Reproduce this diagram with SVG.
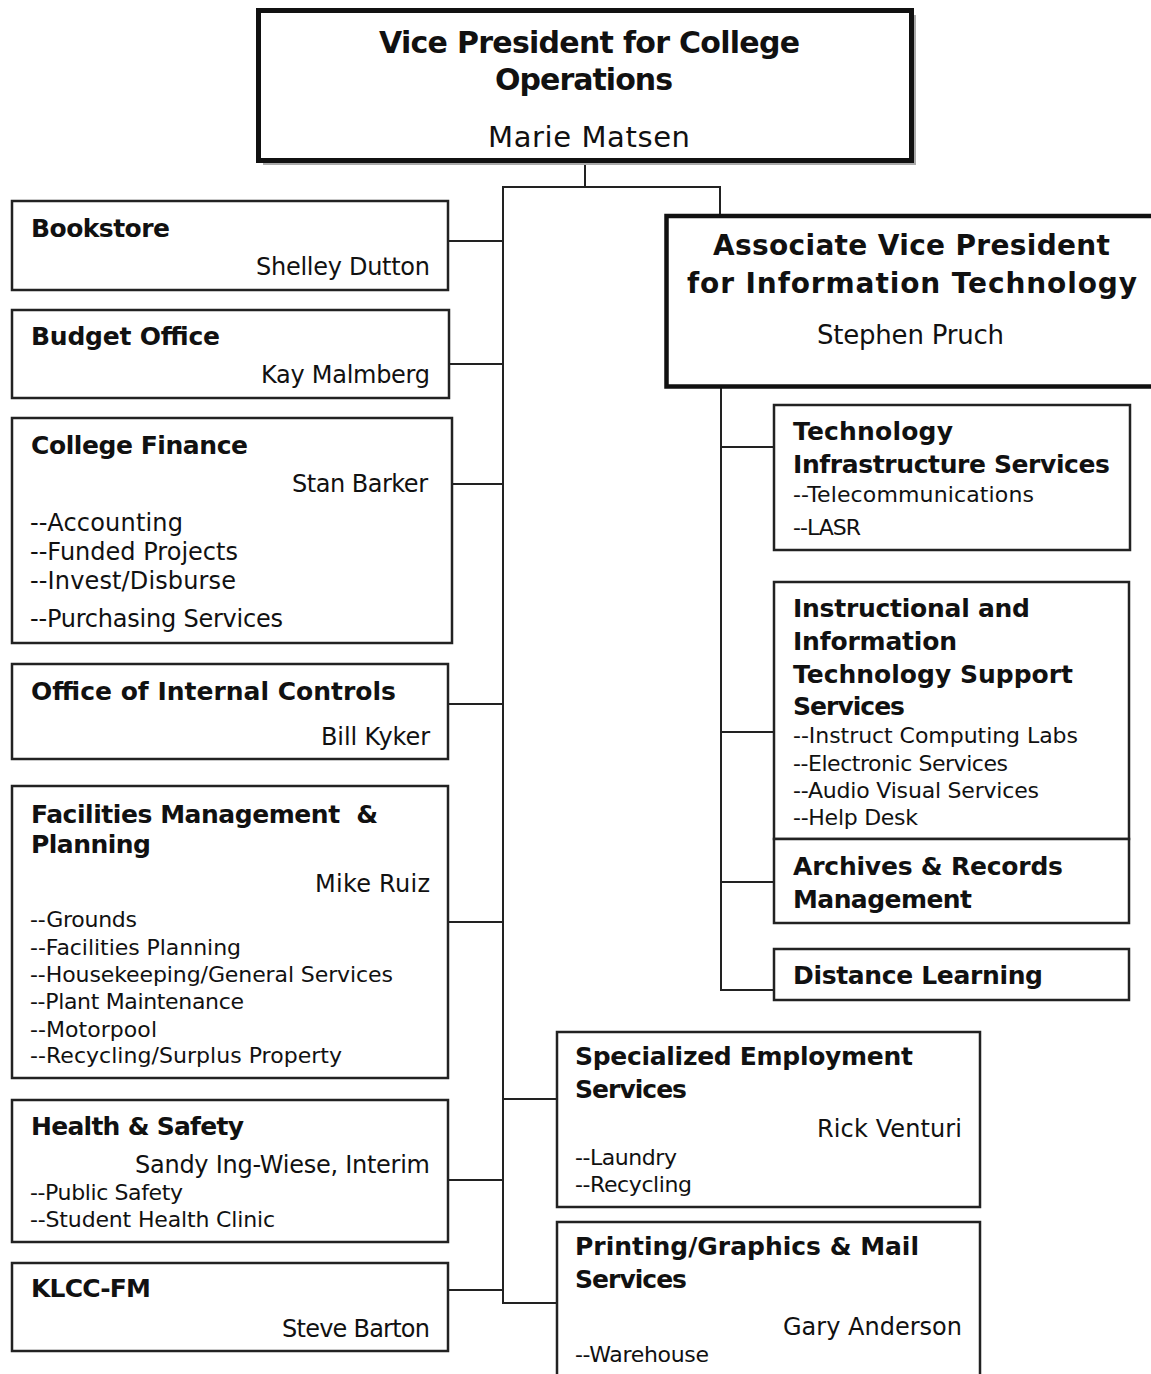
<svg xmlns="http://www.w3.org/2000/svg" width="1151" height="1374" viewBox="0 0 1151 1374">
<style>
.box{fill:#fff;stroke:#222;stroke-width:2.5}
.t{font-family:"DejaVu Sans","Liberation Sans",sans-serif;font-weight:bold;font-size:25px;fill:#111}
.n{font-family:"DejaVu Sans","Liberation Sans",sans-serif;font-size:24px;fill:#111}
.i{font-family:"DejaVu Sans","Liberation Sans",sans-serif;font-size:22px;fill:#111}
.c{fill:none;stroke:#222;stroke-width:2}
</style>
<rect width="1151" height="1374" fill="#fff"/>
<g id="connectors">
<polyline class="c" points="585,161 585,187"/>
<polyline class="c" points="720,214 720,187 503,187 503,1303 557,1303"/>
<line class="c" x1="448" y1="241" x2="503" y2="241"/>
<line class="c" x1="449" y1="364" x2="503" y2="364"/>
<line class="c" x1="452" y1="484" x2="503" y2="484"/>
<line class="c" x1="448" y1="704" x2="503" y2="704"/>
<line class="c" x1="448" y1="922" x2="503" y2="922"/>
<line class="c" x1="448" y1="1180" x2="503" y2="1180"/>
<line class="c" x1="448" y1="1290" x2="503" y2="1290"/>
<line class="c" x1="503" y1="1099" x2="557" y2="1099"/>
<polyline class="c" points="721,388 721,990 774,990"/>
<line class="c" x1="721" y1="447" x2="774" y2="447"/>
<line class="c" x1="721" y1="732" x2="774" y2="732"/>
<line class="c" x1="721" y1="882" x2="774" y2="882"/>
</g>
<g id="vp">
<rect x="263" y="15" width="653" height="150" fill="#aaa"/>
<rect x="258.5" y="10.5" width="653" height="150" fill="#fff" stroke="#111" stroke-width="5"/>
<text class="t" style="font-size:30px" x="379" y="53" textLength="421">Vice President for College</text>
<text class="t" style="font-size:30px" x="495" y="90" textLength="178">Operations</text>
<text class="n" style="font-size:29px" x="488" y="147" textLength="202">Marie Matsen</text>
</g>
<g id="avp">
<rect x="666.5" y="216" width="520" height="170.5" fill="#fff" stroke="#111" stroke-width="4.5"/>
<text class="t" style="font-size:28px" x="713" y="255" textLength="397">Associate Vice President</text>
<text class="t" style="font-size:28px" x="687" y="293" textLength="450">for Information Technology</text>
<text class="n" style="font-size:26px" x="817" y="344" textLength="187">Stephen Pruch</text>
</g>
<g id="bookstore">
<rect class="box" x="12" y="201" width="436" height="89"/>
<text class="t" x="31" y="237" textLength="139">Bookstore</text>
<text class="n" x="256" y="275" textLength="174">Shelley Dutton</text>
</g>
<g id="budget">
<rect class="box" x="12" y="310" width="437" height="88"/>
<text class="t" x="31" y="345" textLength="189">Budget Office</text>
<text class="n" x="261" y="383" textLength="169">Kay Malmberg</text>
</g>
<g id="finance">
<rect class="box" x="12" y="418" width="440" height="225"/>
<text class="t" x="31" y="454" textLength="217">College Finance</text>
<text class="n" x="292" y="492" textLength="136">Stan Barker</text>
<text class="n" x="30" y="531" textLength="153">--Accounting</text>
<text class="n" x="30" y="560" textLength="208">--Funded Projects</text>
<text class="n" x="30" y="589" textLength="206">--Invest/Disburse</text>
<text class="n" x="30" y="627" textLength="253">--Purchasing Services</text>
</g>
<g id="controls">
<rect class="box" x="12" y="664" width="436" height="95"/>
<text class="t" x="31" y="700" textLength="365">Office of Internal Controls</text>
<text class="n" x="321" y="745" textLength="109">Bill Kyker</text>
</g>
<g id="facilities">
<rect class="box" x="12" y="786" width="436" height="292"/>
<text class="t" x="31" y="823" textLength="347" style="white-space:pre">Facilities Management  &amp;</text>
<text class="t" x="31" y="853" textLength="120">Planning</text>
<text class="n" x="315" y="892" textLength="115">Mike Ruiz</text>
<text class="i" x="30" y="927" textLength="107">--Grounds</text>
<text class="i" x="30" y="955" textLength="211">--Facilities Planning</text>
<text class="i" x="30" y="982" textLength="363">--Housekeeping/General Services</text>
<text class="i" x="30" y="1009" textLength="214">--Plant Maintenance</text>
<text class="i" x="30" y="1037" textLength="127">--Motorpool</text>
<text class="i" x="30" y="1063" textLength="312">--Recycling/Surplus Property</text>
</g>
<g id="health">
<rect class="box" x="12" y="1100" width="436" height="142"/>
<text class="t" x="31" y="1135" textLength="213">Health &amp; Safety</text>
<text class="n" x="135" y="1173" textLength="295">Sandy Ing-Wiese, Interim</text>
<text class="i" x="30" y="1200" textLength="153">--Public Safety</text>
<text class="i" x="30" y="1227" textLength="245">--Student Health Clinic</text>
</g>
<g id="klcc">
<rect class="box" x="12" y="1263" width="436" height="88"/>
<text class="t" x="31" y="1297" textLength="120">KLCC-FM</text>
<text class="n" x="282" y="1337" textLength="148">Steve Barton</text>
</g>
<g id="techinfra">
<rect class="box" x="774" y="405" width="356" height="145"/>
<text class="t" x="793" y="440" textLength="160">Technology</text>
<text class="t" x="793" y="473" textLength="317">Infrastructure Services</text>
<text class="i" x="793" y="502" textLength="241">--Telecommunications</text>
<text class="i" x="793" y="535" textLength="68">--LASR</text>
</g>
<g id="instructional">
<rect class="box" x="774" y="582" width="355" height="257"/>
<text class="t" x="793" y="617" textLength="237">Instructional and</text>
<text class="t" x="793" y="650" textLength="164">Information</text>
<text class="t" x="793" y="683" textLength="280">Technology Support</text>
<text class="t" x="793" y="715" textLength="112">Services</text>
<text class="i" x="793" y="743" textLength="285">--Instruct Computing Labs</text>
<text class="i" x="793" y="771" textLength="215">--Electronic Services</text>
<text class="i" x="793" y="798" textLength="246">--Audio Visual Services</text>
<text class="i" x="793" y="825" textLength="125">--Help Desk</text>
</g>
<g id="archives">
<rect class="box" x="774" y="839" width="355" height="84"/>
<text class="t" x="793" y="875" textLength="270">Archives &amp; Records</text>
<text class="t" x="793" y="908" textLength="179">Management</text>
</g>
<g id="distance">
<rect class="box" x="774" y="949" width="355" height="51"/>
<text class="t" x="793" y="984" textLength="250">Distance Learning</text>
</g>
<g id="specialized">
<rect class="box" x="557" y="1032" width="423" height="175"/>
<text class="t" x="575" y="1065" textLength="338">Specialized Employment</text>
<text class="t" x="575" y="1098" textLength="112">Services</text>
<text class="n" x="817" y="1137" textLength="145">Rick Venturi</text>
<text class="i" x="575" y="1165" textLength="102">--Laundry</text>
<text class="i" x="575" y="1192" textLength="117">--Recycling</text>
</g>
<g id="printing">
<rect class="box" x="557" y="1222" width="423" height="170"/>
<text class="t" x="575" y="1255" textLength="344">Printing/Graphics &amp; Mail</text>
<text class="t" x="575" y="1288" textLength="112">Services</text>
<text class="n" x="783" y="1335" textLength="179">Gary Anderson</text>
<text class="i" x="575" y="1362" textLength="134">--Warehouse</text>
</g>
</svg>
